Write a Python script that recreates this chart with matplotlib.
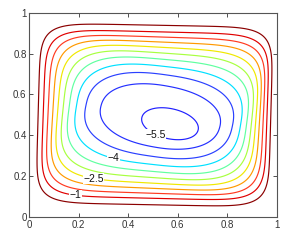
import numpy as np
import matplotlib
matplotlib.use("Agg")
import matplotlib.pyplot as plt

# ---------------- data ----------------
levels = [-5.5, -5.0, -4.5, -4.0, -3.5, -3.0, -2.5, -2.0, -1.5, -1.0, -0.5]
label_levels = [-5.5, -4.0, -2.5, -1.0]
label_positions = [(0.515, 0.415), (0.34, 0.283), (0.26, 0.193), (0.185, 0.10)]
xticks = [0, 0.2, 0.4, 0.6, 0.8, 1]
xticklabels = ["0", "0.2", "0.4", "0.6", "0.8", "1"]
yticks = [0, 0.2, 0.4, 0.6, 0.8, 1]
yticklabels = ["0", "0.2", "0.4", "0.6", "0.8", "1"]
psi_min = -5.65          # value at the vortex core

# vortex-ring model parameters
outer_cx, outer_cy = 0.505, 0.50
core_tilt, outer_tilt = -0.4, -0.02
line_colors = ['#2020ff', '#2430ff', '#2a40ff', '#00e0ff', '#60ffa0', '#a8ff40',
               '#f0e800', '#ff9900', '#ff3a20', '#e00000', '#8b0000']

# ---------------- field ----------------
N = 301
x = np.linspace(0, 1, N)
y = np.linspace(0, 1, N)
X, Y = np.meshgrid(x, y)


def ring_G(s):
    cx = outer_cx + 0.035 * (1 - s) ** 0.7 + 0.09 * np.exp(-(s / 0.17) ** 2) - 0.003
    cy = outer_cy - 0.075 * np.exp(-(s / 0.2) ** 2) - 0.005 * (1 - s)
    hw = s * (0.49 + 0.234 * np.minimum(1.0, ((1 - s) / 0.65) ** 1.7))
    hh = 0.445 * s + 0.055 * s ** 30
    n = 2.0 + 6.0 * s ** 3
    th = core_tilt * (1 - s) ** 1.5 + outer_tilt * s
    dx = X - cx
    dy = Y - cy
    u = (dx * np.cos(th) + dy * np.sin(th)) / hw
    v = (-dx * np.sin(th) + dy * np.cos(th)) / hh
    return np.abs(u) ** n + np.abs(v) ** n


lo = np.full(X.shape, 1e-4)
hi = np.full(X.shape, 1.4)
for _ in range(45):
    mid = 0.5 * (lo + hi)
    g = ring_G(mid)
    outside = g > 1
    lo = np.where(outside, mid, lo)
    hi = np.where(outside, hi, mid)
S = 0.5 * (lo + hi)
Z = psi_min * (1 - S ** 2)

# ---------------- plot ----------------
plt.rcParams['font.family'] = ['Liberation Sans', 'DejaVu Sans']
fig = plt.figure(figsize=(2.91, 2.42), dpi=100)
ax = fig.add_axes([0.1007, 0.102, 0.850, 0.846])
cs = ax.contour(X, Y, Z, levels=levels, colors=line_colors, linewidths=0.85)


def fmt(v):
    return ('\u2212' if v < 0 else '') + ('%g' % abs(v))


# labels: snapped to the nearest point of their own contour
for lev, (px, py) in zip(label_levels, label_positions):
    k = levels.index(lev)
    segs = [s for s in cs.allsegs[k] if len(s)]
    pts = np.vstack(segs)
    d = (pts[:, 0] - px) ** 2 + (pts[:, 1] - py) ** 2
    qx, qy = pts[np.argmin(d)]
    ax.text(qx, qy, fmt(lev), fontsize=7.5, color='#111111', ha='center', va='center',
            bbox=dict(facecolor='white', edgecolor='none', pad=0.3), zorder=5)

ax.set_xlim(0, 1)
ax.set_ylim(0, 1)
ax.set_xticks(xticks)
ax.set_xticklabels(xticklabels)
ax.set_yticks(yticks)
ax.set_yticklabels(yticklabels)
ax.tick_params(direction='in', length=3, width=0.6, top=True, right=True,
               labelsize=7, colors='#333333', pad=2)
for sp in ax.spines.values():
    sp.set_color('#555555')
    sp.set_linewidth(0.8)

fig.savefig('out.png', dpi=100)
